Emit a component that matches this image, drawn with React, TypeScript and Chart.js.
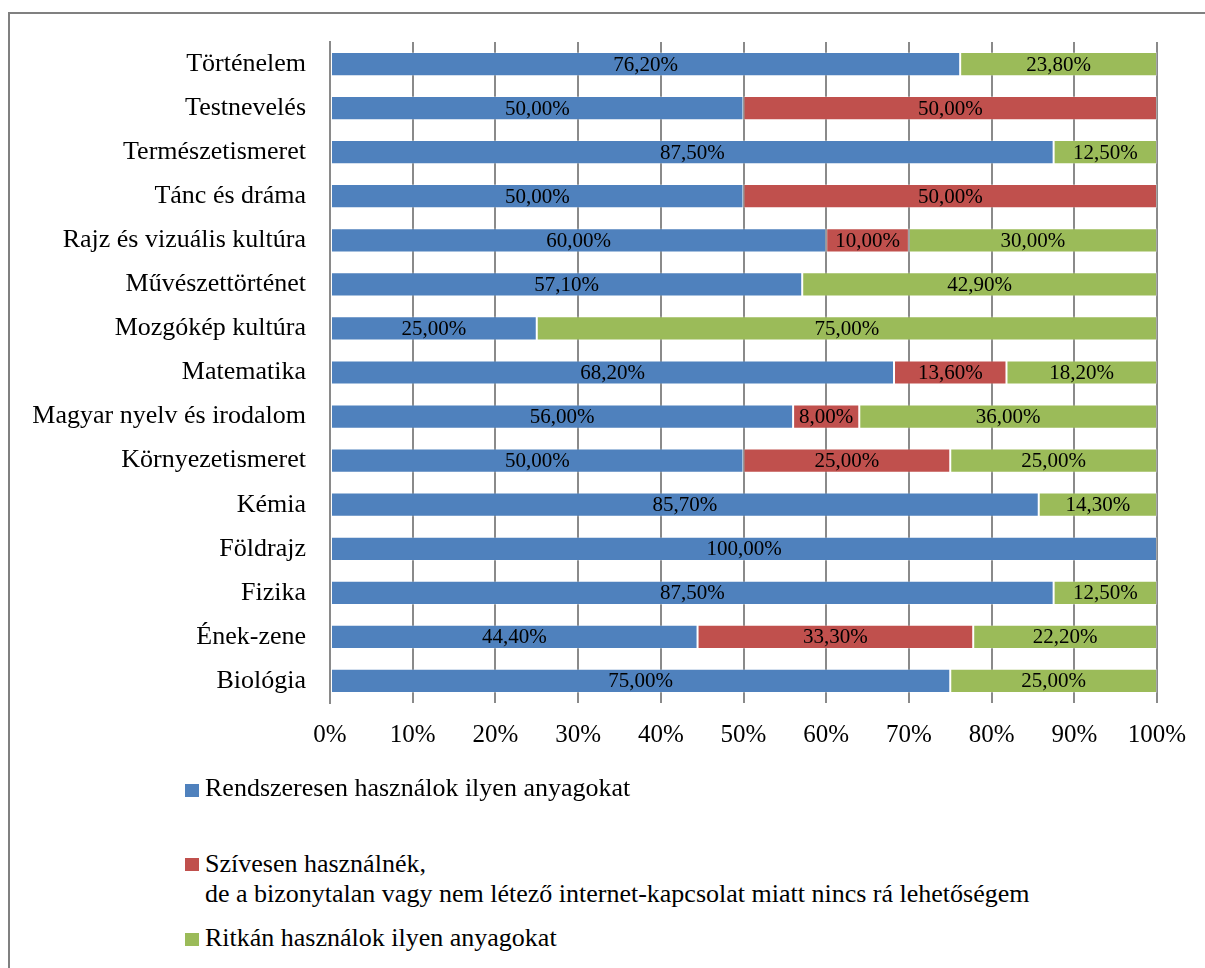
import React, { useEffect, useRef } from "react";
import { Chart, registerables } from "chart.js";

Chart.register(...registerables);

const categories = [
  "Történelem",
  "Testnevelés",
  "Természetismeret",
  "Tánc és dráma",
  "Rajz és vizuális kultúra",
  "Művészettörténet",
  "Mozgókép kultúra",
  "Matematika",
  "Magyar nyelv és irodalom",
  "Környezetismeret",
  "Kémia",
  "Földrajz",
  "Fizika",
  "Ének-zene",
  "Biológia",
];

const regularly = [76.2, 50, 87.5, 50, 60, 57.1, 25, 68.2, 56, 50, 85.7, 100, 87.5, 44.4, 75];
const wouldLike = [0, 50, 0, 50, 10, 0, 0, 13.6, 8, 25, 0, 0, 0, 33.3, 0];
const rarely = [23.8, 0, 12.5, 0, 30, 42.9, 75, 18.2, 36, 25, 14.3, 0, 12.5, 22.2, 25];

const seriesNames = [
  "Rendszeresen használok ilyen anyagokat",
  "Szívesen használnék,\nde a bizonytalan vagy nem létező internet-kapcsolat miatt nincs rá lehetőségem",
  "Ritkán használok ilyen anyagokat",
];
const seriesValues = [regularly, wouldLike, rarely];
const seriesColors = ["#4F81BD", "#C0504D", "#9BBB59"];

const xTicks = [0, 10, 20, 30, 40, 50, 60, 70, 80, 90, 100];

const FONT = "'Liberation Serif', 'Times New Roman', Times, serif";

const rowTotals = categories.map((_, i) =>
  seriesValues.reduce((s, arr) => s + arr[i], 0)
);

const fmt = (v: number) => v.toFixed(2).replace(".", ",") + "%";

const labelPlugin = {
  id: "segmentLabels",
  afterDatasetsDraw(chart: any) {
    const ctx = chart.ctx;
    ctx.save();
    ctx.font = `21px ${FONT}`;
    ctx.fillStyle = "#000";
    ctx.textAlign = "center";
    ctx.textBaseline = "middle";
    chart.data.datasets.forEach((ds: any, di: number) => {
      const meta = chart.getDatasetMeta(di);
      meta.data.forEach((el: any, i: number) => {
        const raw = ds.rawValues[i];
        if (!raw) return;
        const cx = (el.x + el.base) / 2;
        ctx.fillText(fmt(raw), cx, el.y + 1);
      });
    });
    ctx.restore();
  },
};

export default function App() {
  const ref = useRef<HTMLCanvasElement | null>(null);

  useEffect(() => {
    if (!ref.current) return;
    const chart = new Chart(ref.current, {
      type: "bar",
      data: {
        labels: categories,
        datasets: seriesValues.map((vals, si) => ({
          label: seriesNames[si],
          data: vals.map((v, i) => (v / rowTotals[i]) * 100),
          rawValues: vals,
          backgroundColor: seriesColors[si],
          borderColor: "rgba(255,255,255,0.25)",
          borderWidth: 1,
          borderSkipped: false,
          categoryPercentage: 0.55,
          barPercentage: 1,
        })) as any,
      },
      options: {
        indexAxis: "y",
        animation: false,
        responsive: false,
        devicePixelRatio: 1,
        layout: { padding: { left: 0, top: 42, right: 48, bottom: 0 } },
        plugins: {
          legend: { display: false },
          tooltip: { enabled: false },
        },
        scales: {
          x: {
            stacked: true,
            min: 0,
            max: 100,
            afterBuildTicks: (scale: any) => {
              scale.ticks = xTicks.map((v) => ({ value: v }));
            },
            afterFit: (scale: any) => {
              scale.height = 77;
            },
            ticks: {
              color: "#000",
              font: { family: FONT, size: 25 },
              padding: 17,
              maxRotation: 0,
              callback: (v: any) => v + "%",
            },
            grid: {
              color: "#8a8a8a",
              lineWidth: 2,
              drawTicks: false,
            },
            border: { display: false },
          },
          y: {
            stacked: true,
            afterFit: (scale: any) => {
              scale.width = 330;
            },
            ticks: {
              color: "#000",
              font: { family: FONT, size: 26 },
              padding: 24,
              autoSkip: false,
            },
            grid: { display: false, drawTicks: false },
            border: { display: true, color: "#8a8a8a", width: 2 },
          },
        },
      } as any,
      plugins: [labelPlugin],
    });
    return () => chart.destroy();
  }, []);

  const legendTops = [773, 849, 923];
  const swatchTops = [784, 858, 933];

  return (
    <div>
      <div
        style={{
          position: "absolute",
          left: 8,
          top: 12,
          width: 1197,
          height: 956,
          boxSizing: "border-box",
          borderTop: "2px solid #808080",
          borderLeft: "2px solid #808080",
        }}
      />
      <canvas
        ref={ref}
        width={1205}
        height={780}
        style={{ position: "absolute", left: 0, top: 0, width: 1205, height: 780 }}
      />
      {seriesNames.map((name, i) => (
        <React.Fragment key={i}>
          <div
            style={{
              position: "absolute",
              left: 185,
              top: swatchTops[i],
              width: 14,
              height: 13,
              background: seriesColors[i],
            }}
          />
          <div
            style={{
              position: "absolute",
              left: 205,
              top: legendTops[i],
              fontFamily: FONT,
              fontSize: 26,
              lineHeight: "30px",
              color: "#000",
              whiteSpace: "pre-line",
            }}
          >
            {name}
          </div>
        </React.Fragment>
      ))}
    </div>
  );
}
